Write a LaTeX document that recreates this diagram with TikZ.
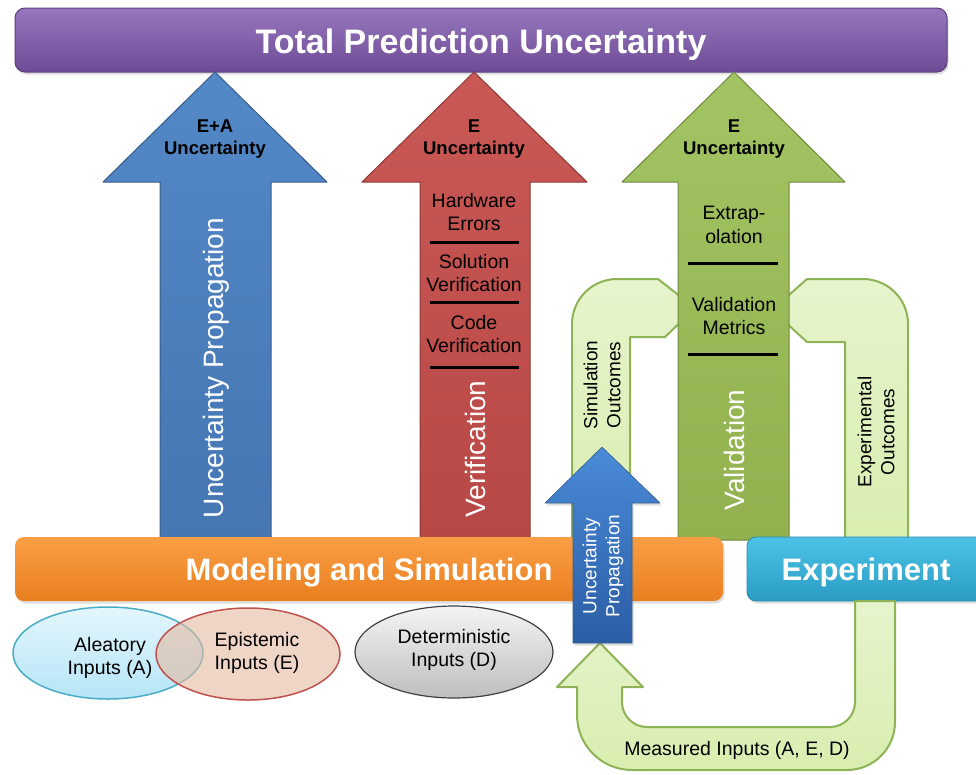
\documentclass[tikz,border=0pt]{standalone}
\usepackage{fontspec}
\setmainfont{Liberation Sans}
\usetikzlibrary{shadows}
\definecolor{purpA}{HTML}{9677BD}
\definecolor{purpB}{HTML}{6E4C96}
\definecolor{purpD}{HTML}{5D3F82}
\definecolor{blueA}{HTML}{5388C6}
\definecolor{blueB}{HTML}{4676B4}
\definecolor{blueD}{HTML}{385D8A}
\definecolor{redA}{HTML}{CA5956}
\definecolor{redB}{HTML}{B84845}
\definecolor{redD}{HTML}{8C3836}
\definecolor{grnA}{HTML}{A3C462}
\definecolor{grnB}{HTML}{91B14F}
\definecolor{grnD}{HTML}{71893F}
\definecolor{lgrn}{HTML}{E6F4CC}
\definecolor{lgrnB}{HTML}{D9EEB0}
\definecolor{lgrnD}{HTML}{8DB356}
\definecolor{orA}{HTML}{FA9E45}
\definecolor{orB}{HTML}{E97F1F}
\definecolor{cyA}{HTML}{4CC3E6}
\definecolor{cyB}{HTML}{2A9CC4}
\definecolor{cyD}{HTML}{2A8AB0}
\definecolor{sbA}{HTML}{4A8BD8}
\definecolor{sbB}{HTML}{2B5DA5}
\definecolor{alA}{HTML}{E4F6FC}
\definecolor{alB}{HTML}{B5E5F6}
\definecolor{alD}{HTML}{4BACC6}
\definecolor{epF}{HTML}{E3B9A0}
\definecolor{epD}{HTML}{C0504D}
\definecolor{deA}{HTML}{F4F4F4}
\definecolor{deB}{HTML}{BEBEBE}
\tikzset{
  bigtxt/.style={text=white,font=\fontsize{28}{32}\selectfont,rotate=90},
  midtxt/.style={align=center,font=\fontsize{19.5}{23.5}\selectfont},
  headtxt/.style={align=center,font=\fontsize{18.5}{22}\bfseries\selectfont},
  bartxt/.style={text=white,font=\fontsize{31}{36}\bfseries\selectfont},
  sepline/.style={line width=3pt,black},
  softshadow/.style={drop shadow={opacity=0.25,shadow xshift=1.5pt,shadow yshift=-2.5pt}},
  lgarrow/.style={top color=lgrn,bottom color=lgrnB,draw=lgrnD,line width=2pt,line join=round},
}
\begin{document}
\begin{tikzpicture}[x=1pt,y=-1pt]
\useasboundingbox (0,0) rectangle (976,774);

% title bar
\path[softshadow,top color=purpA,bottom color=purpB,draw=purpD,line width=1pt,rounded corners=10pt]
  (15,8) rectangle (947,72);
\node[bartxt,font=\fontsize{34}{40}\bfseries\selectfont] (title) at (481,45) {Total Prediction Uncertainty};

% big blue arrow
\path[top color=blueA,bottom color=blueB,draw=blueD,line width=1pt,line join=round]
  (160,540) -- (160,182) -- (103,182) -- (215,72) -- (327,182) -- (271,182) -- (271,540) -- cycle;
\node[headtxt] (eaunc) at (215,139) {E+A\\Uncertainty};
\node[bigtxt] (uprop) at (216,368) {Uncertainty Propagation};

% red arrow
\path[top color=redA,bottom color=redB,draw=redD,line width=1pt,line join=round]
  (420,540) -- (420,182) -- (362,182) -- (474,72) -- (587,182) -- (530,182) -- (530,540) -- cycle;
\node[headtxt] (eunc1) at (474,139) {E\\Uncertainty};
\node[midtxt] (hw) at (474,212) {Hardware\\Errors};
\draw[sepline] (430,242) -- (519,242);
\node[midtxt] (solv) at (474,273) {Solution\\Verification};
\draw[sepline] (430,302) -- (519,302);
\node[midtxt] (codev) at (474,334) {Code\\Verification};
\draw[sepline] (430,367) -- (519,367);
\node[bigtxt] (verif) at (475,449) {Verification};

% light green U arrows (behind green shaft)
\path[lgarrow]
  (572,540) -- (572,324) arc[start angle=180,end angle=270,radius=45] -- (658,279)
  -- (695,308) -- (665,337) -- (630,337) -- (630,540) -- cycle;
\node[midtxt,rotate=90,font=\fontsize{19}{23}\selectfont] (simout) at (602,385) {Simulation\\Outcomes};
\path[lgarrow]
  (908,540) -- (908,324) arc[start angle=0,end angle=-90,radius=45] -- (807,279)
  -- (772,310) -- (807,342) -- (845,342) -- (845,540) -- cycle;
\node[midtxt,rotate=90,font=\fontsize{19}{23}\selectfont] (expout) at (876,432) {Experimental\\Outcomes};

% green arrow
\path[top color=grnA,bottom color=grnB,draw=grnD,line width=1pt,line join=round]
  (678,540) -- (678,182) -- (622,182) -- (734,72) -- (845,182) -- (789,182) -- (789,540) -- cycle;
\node[headtxt] (eunc2) at (734,139) {E\\Uncertainty};
\node[midtxt] (extrap) at (734,225) {Extrap-\\olation};
\draw[sepline] (688,263) -- (778,263);
\node[midtxt] (vmet) at (734,316) {Validation\\Metrics};
\draw[sepline] (688,354) -- (778,354);
\node[bigtxt] (valid) at (734,450) {Validation};

% modeling bar and experiment box
\path[softshadow,top color=orA,bottom color=orB,rounded corners=9pt]
  (15,537) rectangle (723,601);
\node[bartxt] (model) at (369,573) {Modeling and Simulation};
\path[softshadow,top color=cyA,bottom color=cyB,draw=cyD,line width=0.8pt,rounded corners=9pt]
  (747,537) rectangle (990,601);
\node[bartxt] (exper) at (866,572) {Experiment};

% measured inputs arrow
\path[lgarrow]
  (895,601) -- (895,722) arc[start angle=0,end angle=90,radius=48] -- (632,770)
  arc[start angle=90,end angle=180,radius=55] -- (577,687) -- (557,687) -- (600,643)
  -- (643,687) -- (622,687) -- (622,702) arc[start angle=180,end angle=90,radius=25]
  -- (830,727) arc[start angle=90,end angle=0,radius=25] -- (855,601) -- cycle;
\node[midtxt] (meas) at (737,750) {Measured Inputs (A, E, D)};

% small blue arrow
\path[softshadow,top color=sbA,bottom color=sbB,draw=blueD,line width=0.6pt,line join=round]
  (573,643) -- (573,503) -- (545,503) -- (602,447) -- (660,503) -- (632,503) -- (632,643) -- cycle;
\node[midtxt,rotate=90,text=white,font=\fontsize{19}{23}\selectfont] (uprop2) at (603,566) {Uncertainty\\Propagation};

% input ellipses
\path[top color=alA,bottom color=alB,draw=alD,line width=1.5pt]
  (108,653) ellipse[x radius=95,y radius=46];
\path[fill=epF,fill opacity=0.6,draw=epD,line width=1.5pt]
  (248,654) ellipse[x radius=92,y radius=46];
\node[midtxt] (alea) at (110,658) {Aleatory\\Inputs (A)};
\node[midtxt] (epis) at (257,653) {Epistemic\\Inputs (E)};
\path[top color=deA,bottom color=deB,draw=black!75,line width=1.2pt]
  (454,652) ellipse[x radius=99,y radius=46];
\node[midtxt] (deter) at (454,650) {Deterministic\\Inputs (D)};
\end{tikzpicture}
\end{document}
